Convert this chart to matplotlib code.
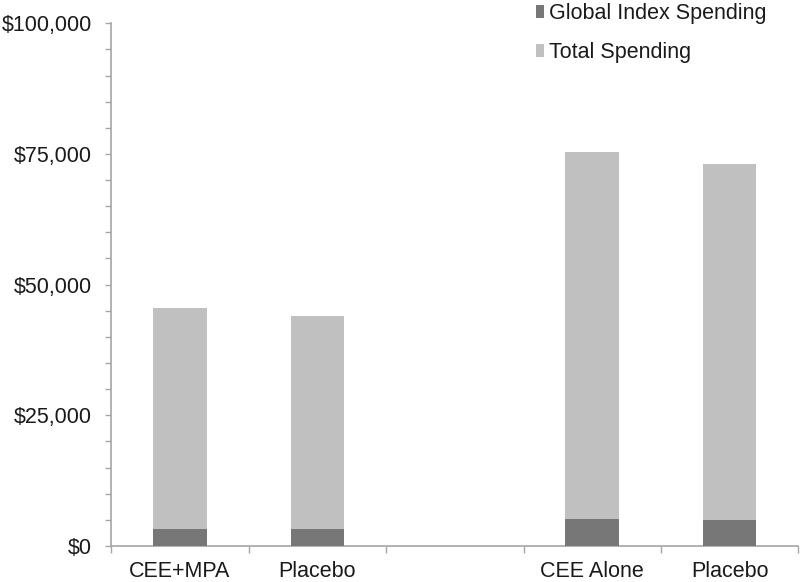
import matplotlib
matplotlib.use("Agg")
import matplotlib.pyplot as plt
from matplotlib.ticker import FuncFormatter, MultipleLocator, FixedLocator

plt.rcParams['font.family'] = ['Liberation Sans', 'DejaVu Sans']

# values
groups = ['CEE+MPA', 'Placebo', '', 'CEE Alone', 'Placebo']
total_spending = [45500, 44000, None, 75400, 73100]
global_index = [3300, 3300, None, 5200, 5000]

pos = [i for i, v in enumerate(total_spending) if v is not None]
tot = [v for v in total_spending if v is not None]
glob = [v for v in global_index if v is not None]

fig = plt.figure(figsize=(8, 5.82), dpi=100)
ax = fig.add_axes([0.139, 0.062, 0.859, 0.898])

ax.bar(pos, tot, width=0.39, color='#c0c0c0', label='Total Spending', zorder=2)
ax.bar(pos, glob, width=0.39, color='#777777', label='Global Index Spending', zorder=3)

ax.set_xlim(-0.5, len(groups) - 0.5)
ax.set_ylim(0, 100000)

axis_grey = '#a6a6a6'
text_col = '#1a1a1a'
for side in ['top', 'right']:
    ax.spines[side].set_visible(False)
for side in ['left', 'bottom']:
    ax.spines[side].set_color(axis_grey)
    ax.spines[side].set_linewidth(1.2)

ax.yaxis.set_major_locator(MultipleLocator(25000))
ax.yaxis.set_minor_locator(MultipleLocator(5000))
ax.yaxis.set_major_formatter(FuncFormatter(lambda v, p: '${:,.0f}'.format(v)))
ax.tick_params(axis='y', which='both', direction='out', length=4, width=1,
               color=axis_grey, labelsize=15.5, labelcolor=text_col, pad=10)

ax.set_xticks(range(len(groups)))
ax.set_xticklabels(groups)
ax.xaxis.set_minor_locator(FixedLocator([i - 0.5 for i in range(len(groups) + 1)]))
ax.tick_params(axis='x', which='major', length=0, labelsize=15.5, labelcolor=text_col, pad=11)
ax.tick_params(axis='x', which='minor', direction='out', length=5, width=1, color=axis_grey)

handles, labels = ax.get_legend_handles_labels()
leg = ax.legend(handles[::-1], labels[::-1], loc='upper left', bbox_to_anchor=(0.59, 1.076),
                frameon=False, fontsize=15.5, handlelength=0.35, handleheight=0.6,
                handletextpad=0.25, labelspacing=0.85, labelcolor=text_col)

fig.savefig('out.png', dpi=100)
